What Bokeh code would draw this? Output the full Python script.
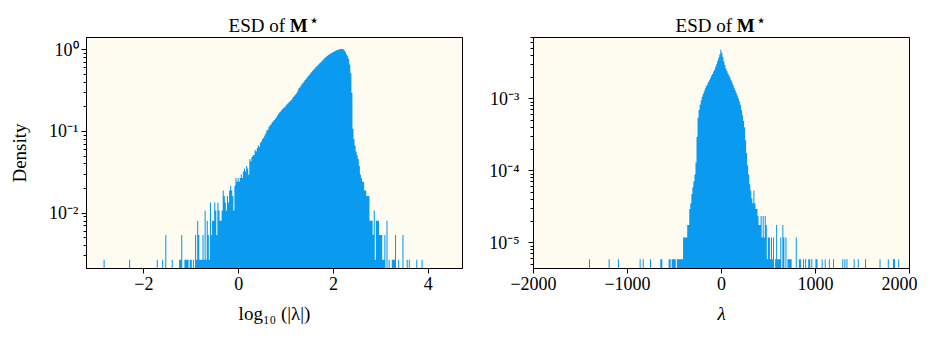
import numpy as np
from bokeh.plotting import figure
from bokeh.layouts import row, column
from bokeh.models import FixedTicker, Range1d, Div
from bokeh.embed import file_html
from bokeh.resources import INLINE

# ---------------- data ----------------
# left panel: histogram of log10(|lambda|), 300 bins
left_start = -2.85
left_bin_width = 0.02243
left_counts = [
    1, 0, 0, 0, 0, 0, 0, 0, 0, 0, 0, 0, 0, 0, 0, 0, 0, 0, 0, 0,
    0, 0, 0, 0, 1, 0, 0, 0, 0, 0, 0, 0, 0, 0, 0, 0, 0, 0, 0, 0,
    0, 0, 0, 0, 0, 0, 0, 0, 0, 0, 1, 0, 0, 0, 0, 1, 0, 0, 2, 0,
    0, 0, 0, 0, 1, 0, 0, 0, 0, 0, 0, 1, 1, 2, 0, 0, 1, 1, 1, 1,
    0, 1, 1, 0, 1, 0, 2, 1, 3, 2, 1, 1, 1, 2, 1, 4, 1, 3, 2, 1,
    5, 2, 3, 3, 5, 4, 2, 5, 4, 3, 3, 4, 7, 6, 5, 4, 6, 5, 7, 8,
    7, 6, 4, 8, 10, 9, 10, 9, 10, 11, 10, 12, 13, 12, 14, 13, 11, 17, 16, 18,
    19, 19, 22, 21, 23, 25, 24, 27, 28, 30, 31, 33, 35, 38, 39, 42, 44, 45, 48, 49,
    51, 53, 55, 58, 61, 63, 65, 68, 70, 72, 74, 77, 80, 82, 85, 87, 90, 94, 98, 101,
    105, 109, 115, 124, 128, 134, 140, 145, 151, 158, 164, 170, 177, 183, 190, 197, 204, 212, 219, 226,
    233, 240, 248, 255, 263, 271, 280, 289, 298, 307, 313, 320, 327, 333, 339, 346, 351, 356, 362, 366,
    370, 374, 377, 379, 378, 374, 362, 345, 326, 308, 285, 244, 191, 110, 40, 30, 25, 21, 19, 17,
    14, 11, 10, 9, 9, 7, 7, 6, 6, 6, 3, 3, 3, 2, 4, 1, 3, 3, 3, 2,
    2, 2, 1, 1, 2, 0, 3, 0, 1, 0, 0, 1, 1, 1, 2, 0, 0, 1, 0, 0,
    0, 2, 0, 0, 0, 1, 0, 1, 0, 0, 0, 0, 0, 0, 1, 0, 0, 0, 0, 1,
]

# right panel: histogram of lambda, 300 bins
right_start = -1410.0
right_bin_width = 11.0
right_counts = [
    1, 0, 0, 0, 0, 0, 0, 0, 0, 0, 0, 0, 0, 0, 0, 0, 0, 0, 0, 1,
    0, 0, 0, 0, 0, 0, 0, 0, 1, 0, 0, 0, 0, 0, 0, 0, 0, 0, 0, 0,
    0, 0, 0, 0, 0, 0, 0, 0, 0, 1, 0, 0, 1, 0, 0, 0, 0, 0, 0, 1,
    0, 0, 0, 0, 0, 0, 0, 0, 0, 1, 1, 0, 0, 0, 0, 0, 0, 1, 1, 0,
    1, 1, 1, 1, 0, 1, 1, 1, 1, 1, 1, 2, 2, 2, 2, 3, 3, 5, 6, 8,
    10, 12, 15, 22, 50, 92, 118, 140, 160, 180, 198, 215, 235, 255, 268, 290, 307, 330, 355, 375,
    405, 430, 470, 510, 570, 630, 700, 810, 740, 650, 560, 500, 445, 410, 380, 355, 335, 305, 285, 262,
    240, 222, 205, 190, 172, 156, 140, 118, 100, 84, 68, 45, 30, 20, 15, 11, 9, 7, 6, 9,
    6, 5, 5, 4, 3, 3, 4, 2, 4, 2, 4, 3, 1, 2, 2, 1, 2, 1, 2, 0,
    1, 3, 1, 1, 1, 2, 0, 3, 2, 0, 2, 0, 1, 1, 1, 1, 0, 0, 0, 0,
    2, 0, 0, 1, 1, 0, 0, 1, 0, 1, 0, 0, 1, 1, 0, 1, 0, 0, 0, 1,
    1, 0, 0, 0, 0, 1, 0, 0, 1, 0, 0, 0, 1, 0, 0, 0, 1, 0, 0, 0,
    0, 0, 0, 0, 0, 1, 0, 1, 0, 1, 0, 0, 0, 0, 0, 0, 1, 0, 0, 0,
    1, 0, 0, 0, 0, 0, 0, 1, 0, 0, 0, 0, 0, 0, 0, 0, 0, 0, 0, 0,
    0, 1, 0, 0, 0, 0, 0, 0, 0, 1, 0, 0, 0, 0, 1, 1, 0, 0, 0, 1,
]

left_xticks = [-2, 0, 2, 4]
left_xtick_labels = ["\u22122", "0", "2", "4"]
left_yticks = [1e-2, 1e-1, 1.0]
left_ytick_labels = ["10\u207b\u00b2", "10\u207b\u00b9", "10\u2070"]
right_xticks = [-2000, -1000, 0, 1000, 2000]
right_xtick_labels = ["\u22122000", "\u22121000", "0", "1000", "2000"]
right_yticks = [1e-5, 1e-4, 1e-3]
right_ytick_labels = ["10\u207b\u2075", "10\u207b\u2074", "10\u207b\u00b3"]
title_html = (
    '<div style="font-family:\'Liberation Serif\';font-size:19px;line-height:36px;'
    'text-align:center;color:black;white-space:nowrap;width:376px;">'
    'ESD of <b>M</b><span style="font-family:\'DejaVu Sans\';font-size:17px;'
    'vertical-align:6px;margin-left:1px;">\u22c6</span></div>'
)

BAR = "#0A9AF0"
BG = "#FEFCF0"
FONT = "Liberation Serif"


def density_steps(start, width, counts, floor):
    """Histogram (density) as step outline; empty bins sit on the axis floor."""
    c = np.asarray(counts, dtype=float)
    edges = start + width * np.arange(len(c) + 1)
    dens = c / (c.sum() * width)
    dens = np.where(c > 0, dens, floor)
    return edges, np.append(dens, floor)


def minor_log(lo_exp, hi_exp):
    out = []
    for e in range(lo_exp, hi_exp + 1):
        for m in range(2, 10):
            out.append(m * 10.0 ** e)
    return out


def make_fig(xr, yr, border_left, border_right):
    p = figure(frame_width=376, frame_height=231,
               x_range=Range1d(*xr), y_range=Range1d(*yr),
               y_axis_type="log", output_backend="svg", toolbar_location=None,
               min_border_left=border_left, min_border_right=border_right,
               min_border_top=1, min_border_bottom=64)
    p.background_fill_color = BG
    p.border_fill_color = "white"
    p.outline_line_color = "black"
    p.outline_line_width = 1
    p.grid.visible = False
    for ax in (p.xaxis[0], p.yaxis[0]):
        ax.major_label_text_font = FONT
        ax.major_label_text_font_size = "18px"
        ax.major_label_text_color = "black"
        ax.axis_label_text_font = FONT
        ax.axis_label_text_font_size = "19px"
        ax.axis_label_text_font_style = "normal"
        ax.axis_label_text_color = "black"
        ax.axis_line_color = "black"
        ax.major_tick_line_color = "black"
        ax.minor_tick_line_color = "black"
        ax.major_tick_in = 0
        ax.major_tick_out = 5
        ax.minor_tick_in = 0
        ax.minor_tick_out = 3
        ax.major_label_standoff = 3
    p.xaxis.minor_tick_line_color = None
    return p


def make_title(margin_left, margin_right):
    return Div(text=title_html, width=376, height=34, margin=(2, margin_right, 0, margin_left))


# ---------------- left panel ----------------
ly0, ly1 = 0.0021, 1.41
p1 = make_fig((-3.21, 4.72), (ly0, ly1), 86, 16)
xs, ys = density_steps(left_start, left_bin_width, left_counts, ly0)
p1.varea_step(x=xs, y1=ly0, y2=ys, step_mode="after", fill_color=BAR)
p1.xaxis.ticker = FixedTicker(ticks=left_xticks)
p1.xaxis.major_label_overrides = dict(zip(left_xticks, left_xtick_labels))
p1.yaxis.ticker = FixedTicker(ticks=left_yticks, minor_ticks=minor_log(-3, 0))
p1.yaxis.major_label_overrides = dict(zip(left_yticks, left_ytick_labels))
p1.xaxis.axis_label = "log\u2081\u2080 (|\u03bb|)"
p1.yaxis.axis_label = "Density"
p1.yaxis.axis_label_standoff = 16
p1.xaxis.axis_label_standoff = 10
t1 = make_title(86, 16)

# ---------------- right panel ----------------
ry0, ry1 = 4.4e-6, 7.1e-3
p2 = make_fig((-2000, 2000), (ry0, ry1), 55, 8)
xs, ys = density_steps(right_start, right_bin_width, right_counts, ry0)
p2.varea_step(x=xs, y1=ry0, y2=ys, step_mode="after", fill_color=BAR)
p2.xaxis.ticker = FixedTicker(ticks=right_xticks)
p2.xaxis.major_label_overrides = dict(zip(right_xticks, right_xtick_labels))
p2.yaxis.ticker = FixedTicker(ticks=right_yticks, minor_ticks=minor_log(-6, -3))
p2.yaxis.major_label_overrides = dict(zip(right_yticks, right_ytick_labels))
p2.yaxis.major_label_standoff = 9
p2.xaxis.axis_label = "\u03bb"
p2.xaxis.axis_label_text_font_style = "italic"
p2.xaxis.axis_label_standoff = 10
t2 = make_title(55, 8)

layout = row(column(t1, p1), column(t2, p2))
open("out.html", "w").write(file_html(layout, INLINE))
